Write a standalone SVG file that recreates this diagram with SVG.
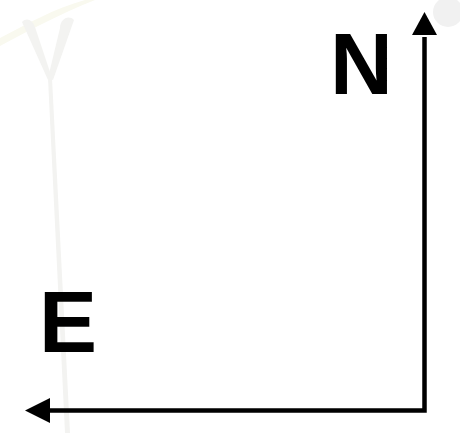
<svg xmlns="http://www.w3.org/2000/svg" width="460" height="433" viewBox="0 0 460 433">
  <style>
    .lbl { font-family: "Liberation Sans", Arial, sans-serif; font-weight: bold; font-size: 87px; fill: #000; }
    .axis { stroke: #000; stroke-width: 4.5; fill: none; }
    .wm { fill: #f3f3f1; }
  </style>
  <defs>
    <marker id="arrow" markerUnits="userSpaceOnUse" markerWidth="26" markerHeight="26" viewBox="0 0 26 26" refX="2" refY="13" orient="auto">
      <path d="M0,0 L24,13 L0,26 Z" fill="#000"/>
    </marker>
  </defs>
  <rect width="460" height="433" fill="#fff"/>
  <g id="watermark">
    <path d="M0,38 C25,25 55,8 85,0 L95,0 C60,14 30,30 0,46 Z" fill="#f9f9ef"/>
    <path class="wm" d="M22,22 C28,16 34,22 36,30 L52,78 L48,80 Z"/>
    <path class="wm" d="M74,20 C68,14 60,20 60,28 L48,78 L53,80 Z"/>
    <path class="wm" d="M48,78 L52,78 L70,433 L65,433 Z"/>
    <circle cx="448" cy="12" r="15" fill="#f1f1f1"/>
  </g>
  <g id="connectors">
    <polyline class="axis" points="424.5,37 424.5,410.5 50,410.5" stroke-linejoin="miter"/>
    <path d="M424.5,12 L437,35 L412,35 Z" fill="#000"/>
    <path d="M25,410.5 L50,398 L50,423 Z" fill="#000"/>
  </g>
  <g id="node-N">
    <text class="lbl" x="330" y="94">N</text>
  </g>
  <g id="node-E">
    <text class="lbl" x="39" y="352">E</text>
  </g>
</svg>
